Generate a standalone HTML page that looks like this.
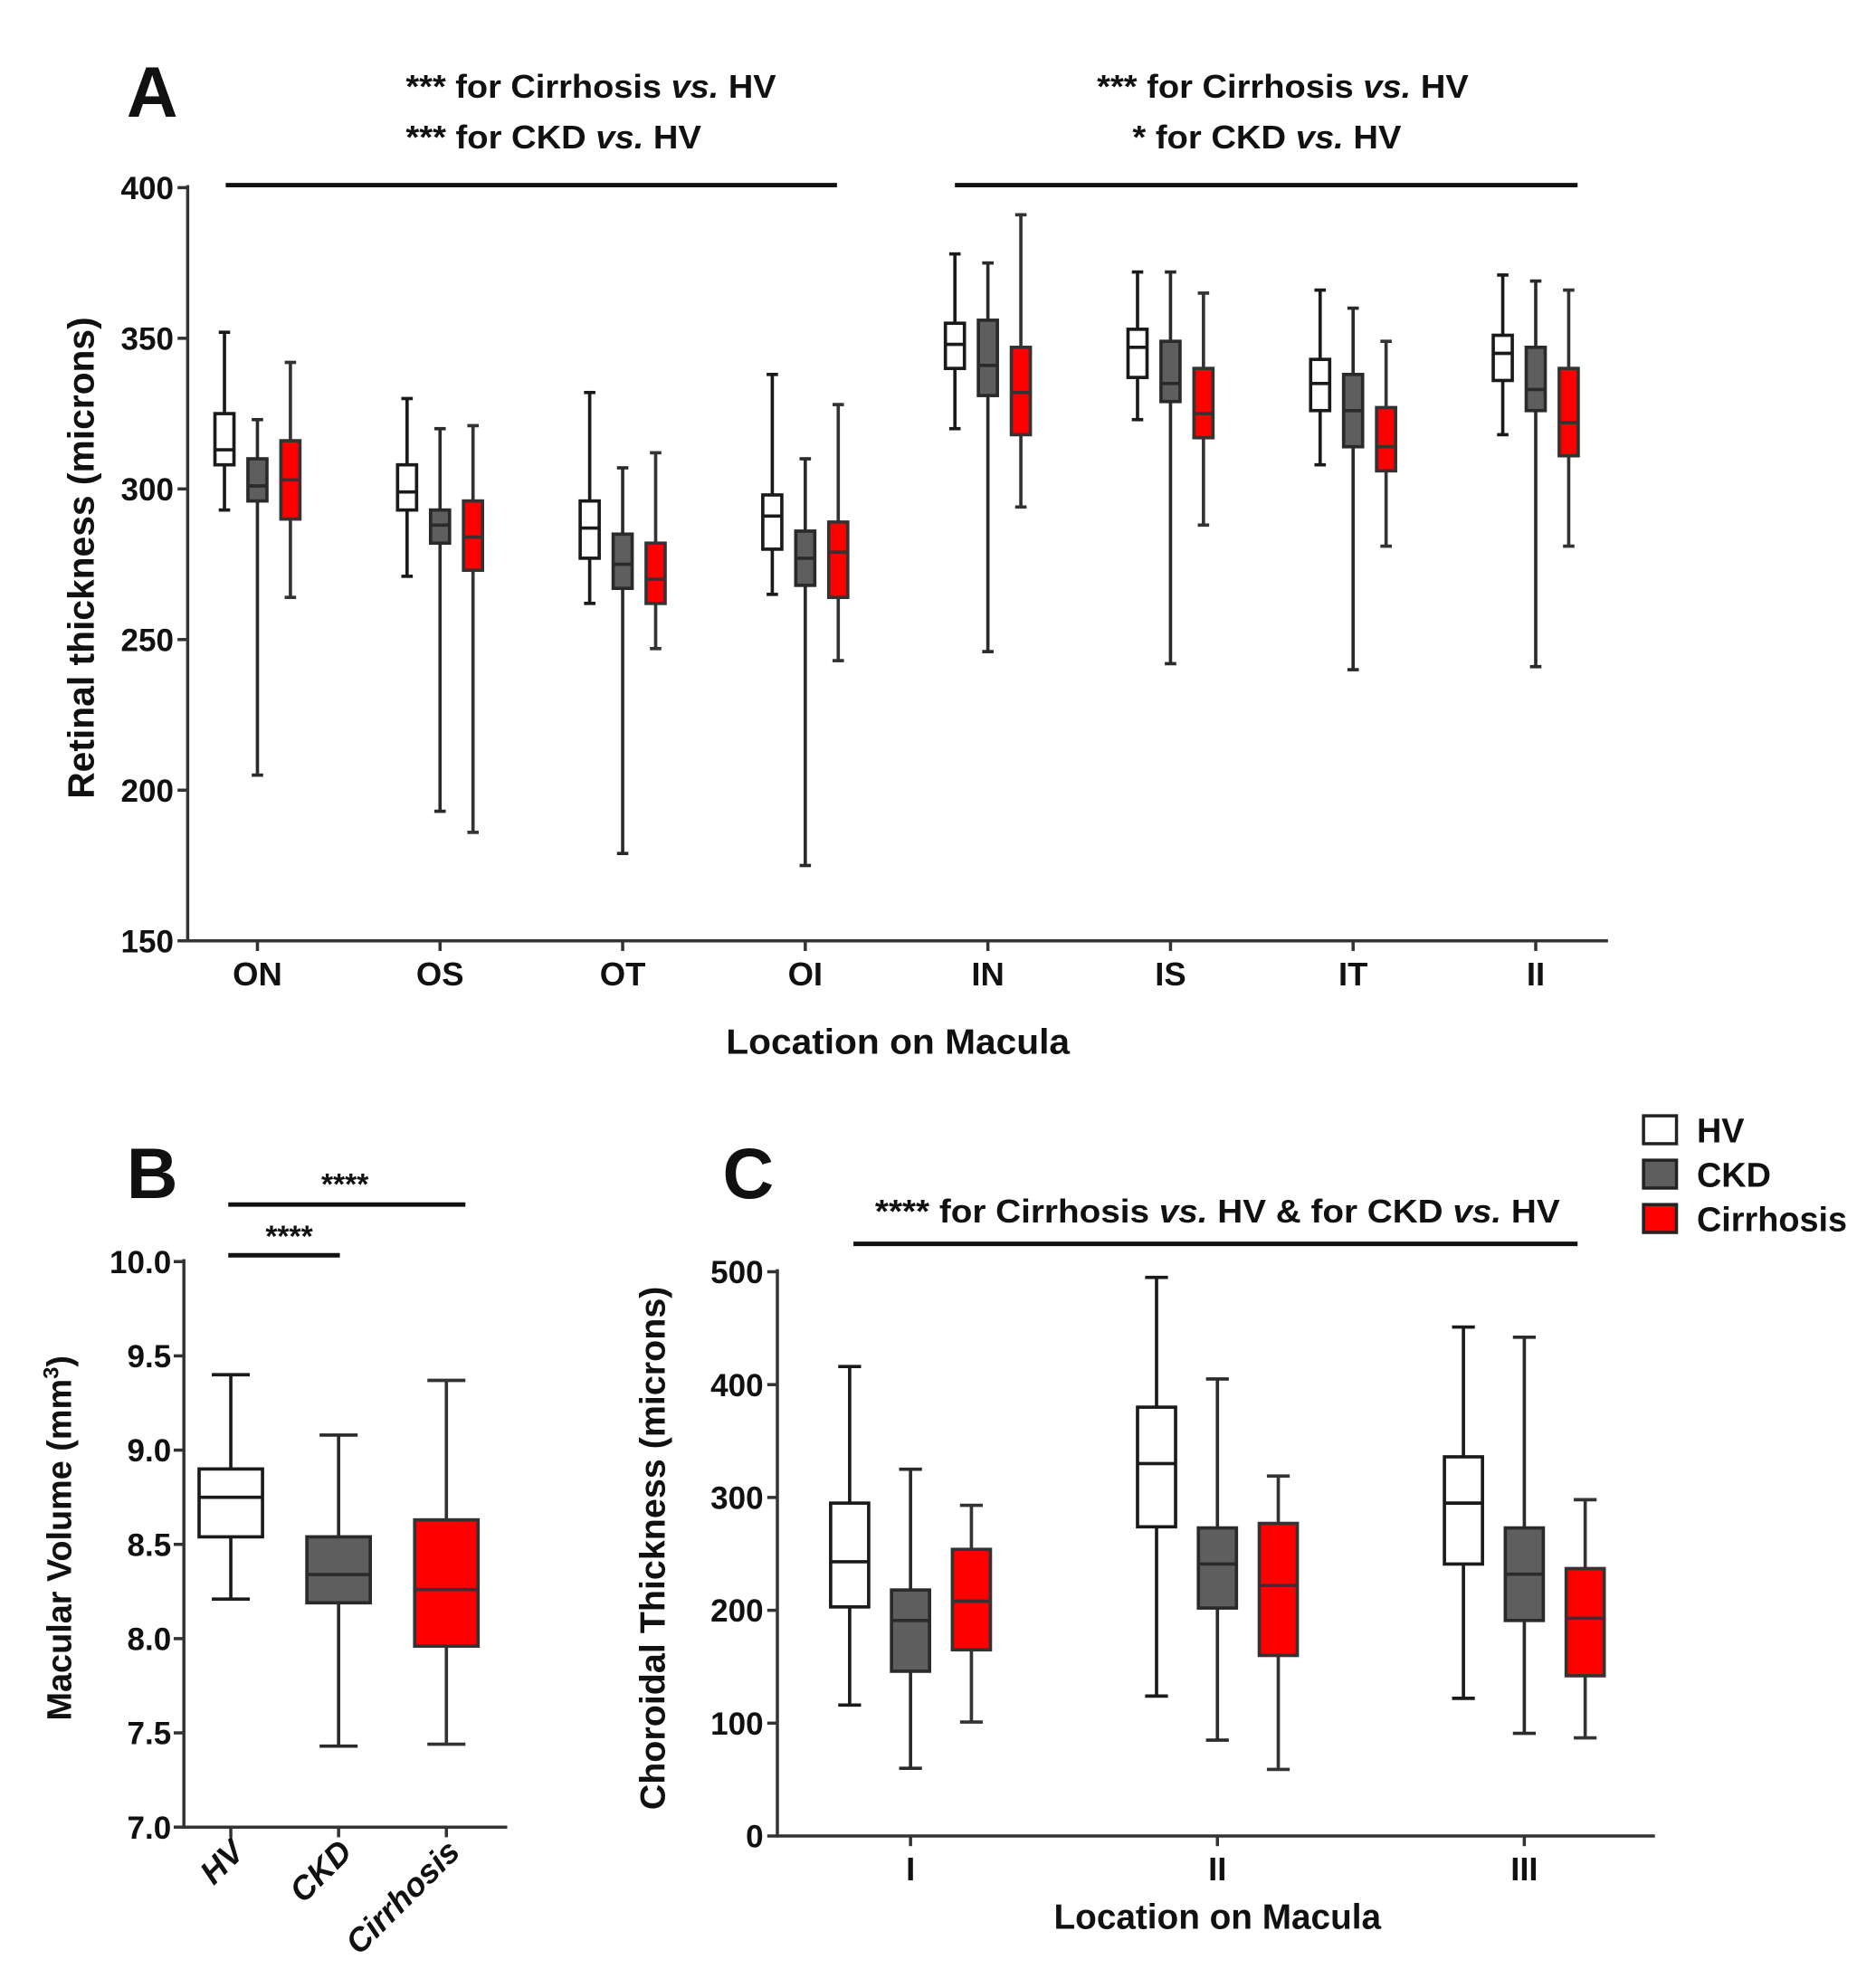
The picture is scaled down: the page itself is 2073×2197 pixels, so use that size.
<!DOCTYPE html>
<html><head><meta charset="utf-8"><style>
html,body{margin:0;padding:0;background:#fff}
svg{display:block}
text{font-family:"Liberation Sans",Arial,sans-serif;font-weight:bold;fill:#111}
</style></head><body>
<svg id="fig" width="2073" height="2197" viewBox="0 0 1470 1558" preserveAspectRatio="none" xmlns="http://www.w3.org/2000/svg">
<rect width="1470" height="1558" fill="#fff"/>
<g transform="scale(0.9937)">
<g id="gA"></g>
<g id="gB"></g>
<g id="gC"></g>
</g>
</svg>
<script>
// Panel A data: [min,q1,median,q3,max]
const aCategories = ["ON","OS","OT","OI","IN","IS","IT","II"];
const aHV = [[293,308,313,325,352],[271,293,299,308,330],[262,277,287,296,332],[265,280,291,298,338],[320,340,348,355,378],[323,337,347,353,372],[308,326,335,343,366],[318,336,345,351,371]];
const aCKD = [[205,296,301,310,323],[193,282,288,293,320],[179,267,275,285,307],[175,268,277,286,310],[246,331,341,356,375],[242,329,335,349,372],[240,314,326,338,360],[241,326,333,347,369]];
const aCirr = [[264,290,303,316,342],[186,273,284,296,321],[247,262,270,282,312],[243,264,279,289,328],[294,318,332,347,391],[288,317,325,340,365],[281,306,314,327,349],[281,311,322,340,366]];
const aTicks = [150,200,250,300,350,400];
// Panel B
const bCategories = ["HV","CKD","Cirrhosis"];
const bValues = [[8.21,8.54,8.75,8.90,9.40],[7.43,8.19,8.34,8.54,9.08],[7.44,7.96,8.26,8.63,9.37]];
const bTicks = ["7.0","7.5","8.0","8.5","9.0","9.5","10.0"];
// Panel C
const cCategories = ["I","II","III"];
const cHV = [[116,203,243,295,416],[124,274,330,380,495],[122,241,295,336,451]];
const cCKD = [[60,146,191,218,325],[85,202,241,273,405],[91,191,232,273,442]];
const cCirr = [[101,165,208,254,293],[59,160,222,277,319],[87,142,193,237,298]];
const cTicks = [0,100,200,300,400,500];

const NS="http://www.w3.org/2000/svg";
const fills={HV:"#ffffff",CKD:"#5e5e5e",Cirrhosis:"#ff0000"};
const strokes={HV:"#1a1a1a",CKD:"#2a2a2a",Cirrhosis:"#333333"};
function el(p,t,a){const e=document.createElementNS(NS,t);for(const k in a)e.setAttribute(k,a[k]);p.appendChild(e);return e;}
function txt(p,x,y,s,size,anchor,extra){const e=el(p,"text",Object.assign({x:x,y:y,"font-size":size,"text-anchor":anchor||"middle"},extra||{}));e.textContent=s;return e;}
function lin(d0,d1,r0,r1){return v=>r0+(v-d0)*(r1-r0)/(d1-d0);}
function box(p,x,w,v,y,grp,name){
  const g=el(p,"g",{});
  
  
  const sc=strokes[grp],sw=2.6,cap=w*0.6;
  el(g,"line",{x1:x,x2:x,y1:y(v[4]),y2:y(v[3]),stroke:sc,"stroke-width":sw});
  el(g,"line",{x1:x,x2:x,y1:y(v[1]),y2:y(v[0]),stroke:sc,"stroke-width":sw});
  el(g,"line",{x1:x-cap/2,x2:x+cap/2,y1:y(v[4]),y2:y(v[4]),stroke:sc,"stroke-width":sw});
  el(g,"line",{x1:x-cap/2,x2:x+cap/2,y1:y(v[0]),y2:y(v[0]),stroke:sc,"stroke-width":sw});
  el(g,"rect",{x:x-w/2,y:y(v[3]),width:w,height:y(v[1])-y(v[3]),fill:fills[grp],stroke:sc,"stroke-width":sw});
  el(g,"line",{x1:x-w/2,x2:x+w/2,y1:y(v[2]),y2:y(v[2]),stroke:sc,"stroke-width":sw});
}
function hline(p,x1,x2,y,w,name){const l=el(p,"line",{x1:x1,x2:x2,y1:y,y2:y,stroke:"#111","stroke-width":w||3.5});}
function stxt(p,x,y,html,size,len){const e=el(p,"text",{x:x,y:y,"font-size":size,"text-anchor":"start",textLength:len,lengthAdjust:"spacingAndGlyphs"});e.innerHTML=html;return e;}

// ---------- Panel A ----------
(function(){
  const g=document.getElementById("gA");
  const y=lin(150,400,742,148), X0=148, X1=1268;
  const cx=i=>203+i*144;
  txt(g,120,92,"A",56,"middle");
  stxt(g,320,77,'*** for Cirrhosis <tspan font-style="italic">vs.</tspan> HV',26,292);
  stxt(g,320,117,'*** for CKD <tspan font-style="italic">vs.</tspan> HV',26,233);
  stxt(g,865,77,'*** for Cirrhosis <tspan font-style="italic">vs.</tspan> HV',26,293);
  stxt(g,893,117,'* for CKD <tspan font-style="italic">vs.</tspan> HV',26,212);
  hline(g,178,660,146,3.5,"significance-bar-outer");
  hline(g,753,1244,146,3.5,"significance-bar-inner");
  el(g,"line",{x1:X0,x2:X0,y1:146,y2:743,stroke:"#333","stroke-width":2.5});
  el(g,"line",{x1:X0-1,x2:X1,y1:742,y2:742,stroke:"#333","stroke-width":2.5});
  aTicks.forEach(t=>{el(g,"line",{x1:X0-8,x2:X0,y1:y(t),y2:y(t),stroke:"#333","stroke-width":2.5});txt(g,X0-11,y(t)+9,String(t),25,"end");});
  aCategories.forEach((c,i)=>{
    el(g,"line",{x1:cx(i),x2:cx(i),y1:742,y2:750,stroke:"#333","stroke-width":2.5});
    txt(g,cx(i),777,c,26,"middle");
    box(g,cx(i)-26,15,aHV[i],y,"HV","box-hv-"+c.toLowerCase());
    box(g,cx(i),15,aCKD[i],y,"CKD","box-ckd-"+c.toLowerCase());
    box(g,cx(i)+26,15,aCirr[i],y,"Cirrhosis","box-cirrhosis-"+c.toLowerCase());
  });
  txt(g,708,831,"Location on Macula",28,"middle",{textLength:271,lengthAdjust:"spacingAndGlyphs"});
  txt(g,0,0,"Retinal thickness (microns)",29,"middle",{transform:"translate(74,440) rotate(-90)",textLength:380,lengthAdjust:"spacingAndGlyphs"});
})();

// ---------- Panel B ----------
(function(){
  const g=document.getElementById("gB");
  const y=lin(7,10,1441,995), X0=145, X1=400;
  const cx=i=>182+i*85;
  txt(g,120,945,"B",56,"middle");
  hline(g,180,367,950,3.5,"significance-bar-hv-cirrhosis");
  txt(g,272,942,"****",24,"middle");
  hline(g,180,268,990,3.5,"significance-bar-hv-ckd");
  txt(g,228,983,"****",24,"middle");
  el(g,"line",{x1:X0,x2:X0,y1:993,y2:1442,stroke:"#333","stroke-width":2.5});
  el(g,"line",{x1:X0-1,x2:X1,y1:1441,y2:1441,stroke:"#333","stroke-width":2.5});
  bTicks.forEach(t=>{const v=parseFloat(t);el(g,"line",{x1:X0-8,x2:X0,y1:y(v),y2:y(v),stroke:"#333","stroke-width":2.5});txt(g,X0-10,y(v)+9,t,25,"end");});
  bCategories.forEach((c,i)=>{
    el(g,"line",{x1:cx(i),x2:cx(i),y1:1441,y2:1449,stroke:"#333","stroke-width":2.5});
    txt(g,0,0,c,26,"end",{transform:"translate("+(cx(i)+12)+",1462) rotate(-45)","font-style":"italic"});
    box(g,cx(i),50,bValues[i],y,c,"box-b-"+c.toLowerCase());
  });
  const yt=el(g,"text",{"font-size":27,"text-anchor":"middle",transform:"translate(56,1213) rotate(-90)"});
  yt.innerHTML='Macular Volume (mm<tspan font-size="17" dy="-10">3</tspan><tspan dy="10">)</tspan>';
})();

// ---------- Panel C ----------
(function(){
  const g=document.getElementById("gC");
  const y=lin(0,500,1448,1003), X0=613, X1=1305;
  const cx=i=>718+i*242;
  txt(g,590,945,"C",56,"middle");
  stxt(g,690,964,'**** for Cirrhosis <tspan font-style="italic">vs.</tspan> HV &amp; for CKD <tspan font-style="italic">vs.</tspan> HV',26,540);
  hline(g,673,1244,981,3.5,"significance-bar-c");
  el(g,"line",{x1:X0,x2:X0,y1:1001,y2:1449,stroke:"#333","stroke-width":2.5});
  el(g,"line",{x1:X0-1,x2:X1,y1:1448,y2:1448,stroke:"#333","stroke-width":2.5});
  cTicks.forEach(v=>{el(g,"line",{x1:X0-8,x2:X0,y1:y(v),y2:y(v),stroke:"#333","stroke-width":2.5});txt(g,X0-11,y(v)+9,String(v),25,"end");});
  cCategories.forEach((c,i)=>{
    el(g,"line",{x1:cx(i),x2:cx(i),y1:1448,y2:1456,stroke:"#333","stroke-width":2.5});
    txt(g,cx(i),1483,c,26,"middle");
    box(g,cx(i)-48,30,cHV[i],y,"HV","box-c-hv-"+c.toLowerCase());
    box(g,cx(i),30,cCKD[i],y,"CKD","box-c-ckd-"+c.toLowerCase());
    box(g,cx(i)+48,30,cCirr[i],y,"Cirrhosis","box-c-cirrhosis-"+c.toLowerCase());
  });
  txt(g,960,1521,"Location on Macula",28,"middle",{textLength:258,lengthAdjust:"spacingAndGlyphs"});
  txt(g,0,0,"Choroidal  Thickness (microns)",28,"middle",{transform:"translate(524,1221) rotate(-90)",textLength:413,lengthAdjust:"spacingAndGlyphs"});
  // legend
  const leg=el(g,"g",{});
  
  
  ["HV","CKD","Cirrhosis"].forEach((s,i)=>{
    const e=el(leg,"g",{});
    
    
    el(e,"rect",{x:1296,y:880+i*35,width:26,height:22,fill:fills[s],stroke:"#222","stroke-width":2.5});
    txt(e,1338,901+i*35,s,27,"start");
  });
})();
</script>
</body></html>
